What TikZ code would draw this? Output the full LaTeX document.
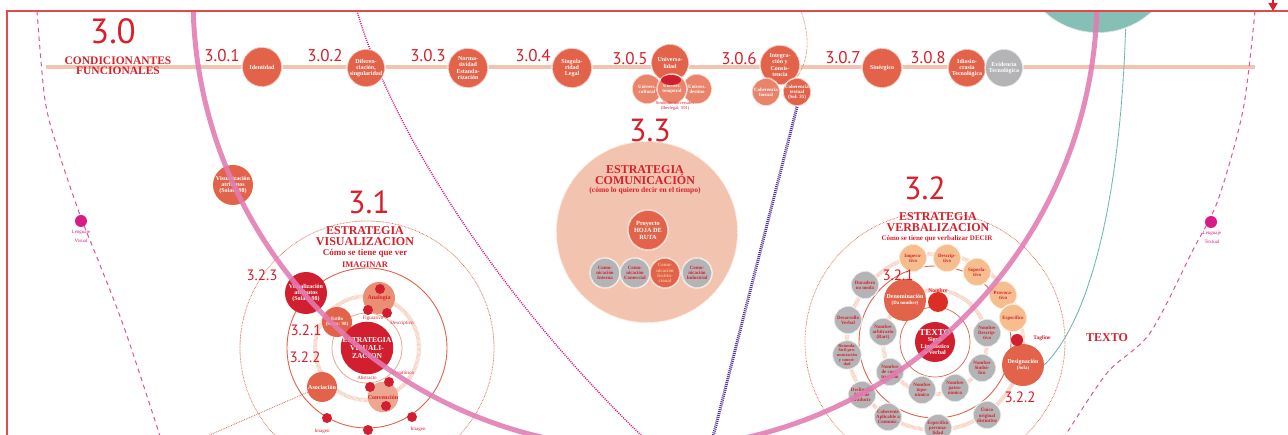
\documentclass[tikz,border=0pt]{standalone}
\usepackage{fontspec}
\setmainfont{Liberation Serif}
\newfontfamily\numfont{PT Sans}
\usetikzlibrary{arrows.meta}
\definecolor{cred}{HTML}{D7202B}
\definecolor{corange}{HTML}{E2634A}
\definecolor{clight}{HTML}{E9836A}
\definecolor{csalmon}{HTML}{F2C4B0}
\definecolor{cring}{HTML}{F6CDBB}
\definecolor{cgray}{HTML}{B4B3B6}
\definecolor{cpeach}{HTML}{F6BE8E}
\definecolor{cdark}{HTML}{D21F30}
\definecolor{cpink}{HTML}{E27BB2}
\definecolor{cmag}{HTML}{D81B86}
\definecolor{cdash}{HTML}{E0529F}
\definecolor{cteal}{HTML}{86BFB6}
\definecolor{ctealline}{HTML}{5FB2A6}
\definecolor{cpurple}{HTML}{553394}
\definecolor{cana}{HTML}{EB8F74}
\definecolor{cconv}{HTML}{EDA68F}
\newcommand\ntf{\fontsize{6}{6.2}\selectfont\bfseries}
\newcommand\stf{\fontsize{4.9}{5.1}\selectfont\bfseries}
\tikzset{
  sunb/.style={circle, inner sep=0pt, minimum size=#1, draw=white, line width=1.6pt,
    dash pattern=on 0.5pt off 0.6pt, align=center, text=white, font=\ntf},
  flat/.style={circle, inner sep=0pt, minimum size=#1, align=center, text=white, font=\ntf},
  rdot/.style={circle, fill=cdark, inner sep=0pt, minimum size=#1},
  gnode/.style={sunb=28pt, fill=cgray, text=cred, font=\stf},
  pnode/.style={sunb=28pt, fill=cpeach, text=cred, font=\stf},
  num/.style={text=cred, font=\numfont\fontsize{17}{17}\selectfont},
  snum/.style={text=cred, font=\numfont\fontsize{15}{15}\selectfont},
  bignum/.style={text=cred, font=\numfont\fontsize{35}{35}\selectfont},
  head/.style={text=cred, font=\bfseries\fontsize{12}{10.4}\selectfont, align=center},
  lbl/.style={text=cred, font=\fontsize{5}{5.5}\selectfont},
  mlbl/.style={text=cmag, font=\fontsize{5}{9}\selectfont, align=center},
  lightring/.style={draw=cring, line width=4pt, dash pattern=on 0.6pt off 0.6pt},
  dotring/.style={draw=corange, line width=0.8pt, dash pattern=on 0.6pt off 0.9pt},
  solidring/.style={draw=corange, line width=0.9pt},
}
\begin{document}
\begin{tikzpicture}[x=1pt,y=-1pt]
\useasboundingbox (0,0) rectangle (1288,435);
\fill[white] (0,0) rectangle (1288,435);
\begin{scope}
\clip (7,11) rectangle (1288,435);
% teal circle
\node[sunb=160pt, fill=cteal] (tealc) at (1098,-47) {};
% beige line
\coordinate (bl1) at (46,67);
\coordinate (bl2) at (1255,67);
\draw[csalmon, line width=4pt] (bl1) -- (bl2);
% dashed pink curves
\draw[cdash, line width=1pt, dash pattern=on 4.5pt off 4pt] plot[smooth] coordinates {(37,11) (45,100) (58,150) (80,215) (100,265) (125,330) (160,436)};
\draw[cdash, line width=1pt, dash pattern=on 4.5pt off 4pt] plot[smooth] coordinates {(1255,11) (1243,110) (1218,200) (1193,250) (1150,333) (1107,373) (1065,436)};
\node[circle, fill=cmag, inner sep=0pt, minimum size=12pt] (lv) at (81,221) {};
\node[mlbl, anchor=north] (lvt) at (81,227) {Lenguaje\\Visual};
\node[circle, fill=cmag, inner sep=0pt, minimum size=12pt] (lt) at (1211,222) {};
\node[mlbl, anchor=north] (ltt) at (1212,228) {Lenguaje\\Textual};
% 3.1 rings
\coordinate (c1) at (367,348);
\draw[dotring] (c1) circle (127);
\draw[solidring] (c1) circle (80);
\draw[lightring] (c1) circle (52);
\draw[draw=cconv, line width=0.8pt] (c1) circle (35);
% 3.2 rings
\coordinate (c2) at (935,342);
\draw[dotring] (c2) circle (130);
\draw[lightring] (c2) circle (88);
\draw[solidring] (c2) circle (76);
\draw[lightring] (c2) circle (52);
\draw[solidring, line width=0.7pt] (c2) circle (35);
% 3.3 big circle
\node[sunb=182pt, fill=csalmon] (c33) at (647,232) {};
% long lines
\coordinate (m1) at (354,0);
\coordinate (m2) at (646,440);
\draw[cmag, line width=1.5pt, dash pattern=on 1pt off 1.2pt] (m1) .. controls (385,120) and (495,295) .. (m2);
% top row nodes
\node[sunb=40pt, fill=corange] (idn) at (262,67) {Identidad};
\node[sunb=38pt, fill=corange] (dif) at (366,68) {Diferen-\\ciación,\\singularidad};
\node[sunb=40pt, fill=corange] (nor) at (468,68) {Norma-\\tividad\\Estanda-\\rización};
\node[sunb=40pt, fill=corange] (sng) at (572,68) {Singula-\\ridad\\Legal};
\node[sunb=38pt, fill=corange] (uni) at (670,63) {Universa-\\lidad};
\node[sunb=30pt, fill=clight, font=\stf] (unc) at (647,89) {Univers.\\cultural};
\node[sunb=30pt, fill=clight, font=\stf] (und) at (697,89) {Univers.\\destino};
\node[sunb=30pt, fill=clight, font=\stf] (unt) at (672,89) {Univers.\\temporal};
\fill[cdark] (671,80) ellipse (10 and 5);
\node[lbl, align=center, font=\fontsize{4.5}{4.6}\selectfont] (unnote) at (675,106) {Simbolos universales\\(Iberlegal: 591)};
\coordinate (dt1) at (800,8);
\node[sunb=40pt, fill=corange] (int) at (780,65) {Integra-\\ción y\\Consis-\\tencia};
\node[sunb=28pt, fill=clight, font=\stf] (cof) at (766,92) {Coherencia\\formal};
\node[sunb=28pt, fill=corange, font=\stf] (cot) at (797,92) {Coherencia\\textual\\(Sol: 35)};
\draw[corange, line width=0.6pt, dash pattern=on 0.6pt off 0.8pt] (dt1) .. controls (808,30) and (812,55) .. (cot.north);
\coordinate (pe) at (713,437);
\draw[cpurple, line width=3pt, dash pattern=on 1pt off 1pt] (cot.south) -- (pe);
\node[sunb=40pt, fill=corange] (sin) at (882,68) {Sinérgico};
\node[sunb=38pt, fill=corange] (idi) at (967,68) {Idiosin-\\crasia\\Tecnológica};
\node[sunb=38pt, fill=cgray] (evi) at (1004,68) {Evidencia\\Tecnológica};
% numbers row
\node[bignum] (n30) at (113,31) {3.0};
\node[head, font=\bfseries\fontsize{11.5}{10}\selectfont] (cf) at (118,66) {CONDICIONANTES\\FUNCIONALES};
\node[num] (n301) at (222,56) {3.0.1};
\node[num] (n302) at (325,56) {3.0.2};
\node[num] (n303) at (428,56) {3.0.3};
\node[num] (n304) at (533,56) {3.0.4};
\node[num] (n305) at (630,59) {3.0.5};
\node[num] (n306) at (739,59) {3.0.6};
\node[num] (n307) at (843,58) {3.0.7};
\node[num] (n308) at (928,58) {3.0.8};
% 3.1
\node[flat=40pt, fill=corange] (va1) at (233,185) {Visualización\\atributos\\(Solas: 98)};
\node[bignum, font=\numfont\fontsize{32}{32}\selectfont] (n31) at (369,202) {3.1};
\node[head] (h31) at (365,236) {ESTRATEGIA\\VISUALIZACION};
\node[text=cred, font=\bfseries\fontsize{9}{9}\selectfont] (s31) at (365,253) {Cómo se tiene que ver};
\node[text=cred, font=\bfseries\fontsize{8.5}{8.5}\selectfont] (i31) at (365,265) {IMAGINAR};
\node[snum] (n323) at (262,275) {3.2.3};
\node[snum] (n321a) at (306,330) {3.2.1};
\node[snum] (n322a) at (305,357) {3.2.2};
\node[flat=42pt, fill=cdark] (va2) at (306,293) {Visualización\\atributos\\(Solas: 98)};
\node[flat=32pt, fill=cana, text=cred] (ana) at (379,298) {Analogía};
\node[rdot=10pt] (ad1) at (380,289) {};
\node[rdot=10pt] (ad2) at (368,310) {};
\node[rdot=10pt] (ad3) at (387,313) {};
\node[lbl] (lfig) at (373,318) {Figurativo};
\node[lbl] (ldes) at (402,323) {Descriptivo};
\node[flat=30pt, fill=corange, font=\stf] (est) at (337,322) {Estilo\\(Solas: 98)};
\node[flat=40pt, fill=cdark, font=\bfseries\fontsize{7.5}{7.6}\selectfont] (ev) at (367,348) {ESTRATEGIA\\VISUALI-\\ZACION};
\node[lbl] (lmet) at (403,373) {Metafórico};
\node[lbl] (labs) at (367,378) {Abstracto};
\node[flat=30pt, fill=cconv, text=cred] (conv) at (383,397) {Convención};
\node[rdot=10pt] (cd1) at (370,387) {};
\node[rdot=10pt] (cd2) at (389,382) {};
\node[rdot=10pt] (cd3) at (386,406) {};
\node[flat=30pt, fill=corange] (asoc) at (322,387) {Asociación};
\coordinate (bld) at (205,437);
\draw[corange, line width=0.8pt, dash pattern=on 0.8pt off 1pt] (asoc.200) -- (bld);
\node[rdot=10pt] (bd1) at (327,418) {};
\node[rdot=10pt] (bd2) at (368,430) {};
\node[rdot=10pt] (bd3) at (412,417) {};
\node[lbl] (lim1) at (322,431) {Imagen};
\node[lbl] (lim2) at (418,429) {Imagen};
% 3.3
\node[bignum, font=\numfont\fontsize{32}{32}\selectfont] (n33) at (650,130) {3.3};
\node[head] (h33) at (645,175) {ESTRATEGIA\\COMUNICACIÓN};
\node[text=cred, font=\bfseries\fontsize{7.5}{7.5}\selectfont] (s33) at (645,191) {(cómo lo quiero decir en el tiempo)};
\node[sunb=40pt, fill=corange, font=\bfseries\fontsize{6.3}{7}\selectfont] (hoja) at (648,230) {Proyecto\\HOJA DE\\RUTA};
\node[sunb=30pt, fill=cgray, text=cred, font=\stf] (ci1) at (605,273) {Comu-\\nicación\\Interna};
\node[sunb=30pt, fill=cgray, text=cred, font=\stf] (ci2) at (635,273) {Comu-\\nicación\\Comercial};
\node[sunb=30pt, fill=corange, text=cpeach, font=\stf] (ci3) at (665,273) {Comu-\\nicación\\Institu-\\cional};
\node[sunb=30pt, fill=cgray, text=cred, font=\stf] (ci4) at (697,273) {Comu-\\nicación\\Industrial};
% 3.2
\node[bignum, font=\numfont\fontsize{32}{32}\selectfont] (n32) at (925,188) {3.2};
\node[head] (h32) at (938,222) {ESTRATEGIA\\VERBALIZACION};
\node[text=cred, font=\bfseries\fontsize{7}{7}\selectfont] (s32) at (937,238.5) {Cómo se tiene que verbalizar DECIR};
\node[pnode] (imp) at (913,258) {Impera-\\tivo};
\node[pnode] (dsc) at (947,258) {Descrip-\\tivo};
\node[pnode] (sup) at (977,272) {Superla-\\tivo};
\node[pnode] (prv) at (1003,295) {Provoca-\\tivo};
\node[pnode] (esf) at (1013,318) {Específico};
\node[gnode] (dur) at (865,285) {Duradero\\no moda};
\node[gnode] (dsv) at (848,320) {Desarrollo\\Verbal};
\node[gnode, font=\fontsize{4.3}{4.6}\selectfont\bfseries] (rot) at (847,355) {Rotunda:\\fácil pro-\\nunciación\\y sonori-\\dad};
\node[gnode] (dcl) at (862,395) {Declinable\\fácil de\\traducir};
\node[gnode] (coh) at (888,417) {Coherente\\Aplicable a\\Comunic.};
\node[gnode] (esp) at (938,428) {Específico\\persona-\\lidad};
\node[gnode] (unq) at (987,415) {Único\\original\\distintivo};
\node[gnode] (nar) at (883,332) {Nombre\\arbitrario\\(Bart)};
\node[gnode] (ncs) at (890,372) {Nombre\\de cons-\\trucción};
\node[gnode] (ntp) at (922,390) {Nombre\\topo-\\nímico};
\node[gnode] (npt) at (955,388) {Nombre\\patro-\\nímico};
\node[gnode] (nsb) at (982,368) {Nombre\\Simbó-\\lico};
\node[gnode] (nds) at (987,333) {Nombre\\Descrip-\\tivo};
\node[flat=42pt, fill=corange] (den) at (905,300) {Denominación\\{\stf(Da nombre)}};
\node[circle, fill=cred!85!orange, inner sep=0pt, minimum size=20pt] (nom) at (938,302) {};
\node[lbl, font=\bfseries\fontsize{5.5}{5.5}\selectfont] (lnom) at (938,291) {Nombre};
\node[flat=40pt, fill=cdark] (tex) at (935,342) {{\fontsize{9}{9}\selectfont TEXTO}\\Signo\\Lingüístico\\o Verbal};
\node[flat=42pt, fill=corange] (des) at (1023,365) {Designación\\{\stf(Sola)}};
\node[rdot=12pt] (tag) at (1017,340) {};
\node[lbl, font=\bfseries\fontsize{5.5}{5.5}\selectfont] (ltag) at (1042,338) {Tagline};
\node[snum] (n321b) at (898,275) {3.2.1};
\node[snum] (n322b) at (1020,397) {3.2.2};
\node[text=cred, font=\bfseries\fontsize{12}{12}\selectfont] (texto) at (1107,338) {TEXTO};
% teal connector
\draw[ctealline, line width=0.9pt, dash pattern=on 0.8pt off 0.4pt] (tealc.-70) .. controls (1120,200) and (1090,320) .. (des.east);
% big pink arc
\draw[cpink, line width=5pt, opacity=0.88] (645,-3) circle (452);
\end{scope}
% frame
\coordinate (f1) at (7,435);
\coordinate (f2) at (7,11);
\coordinate (f3) at (1288,11);
\draw[cred!75!pink, line width=1.2pt] (f1) -- (f2) -- (f3);
\coordinate (arT) at (1273,-2);
\coordinate (arB) at (1273,11);
\draw[cred, line width=1.3pt, -{Triangle[width=9pt,length=8pt]}] (arT) -- (arB);
\end{tikzpicture}
\end{document}
